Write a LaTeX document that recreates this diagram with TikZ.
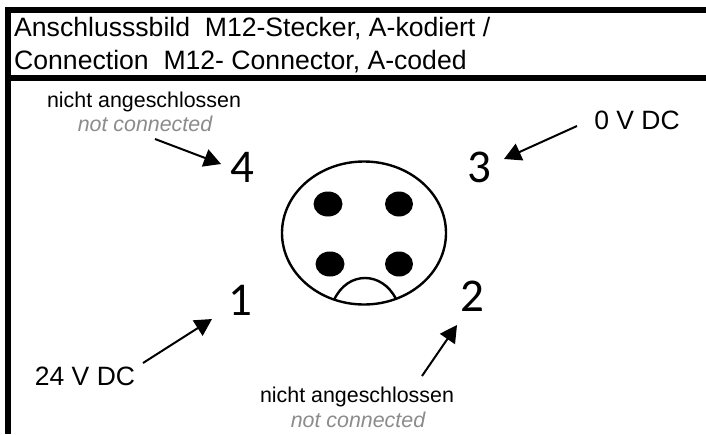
\documentclass[tikz,border=0pt]{standalone}
\usepackage{fontspec}
\setmainfont{Liberation Sans}
\newfontfamily\digitfont{Carlito}
\usetikzlibrary{arrows.meta}
\tikzset{
  rule/.style={line width=6pt,line cap=butt},
  titletext/.style={anchor=base west,inner sep=0pt,font=\fontsize{26.6}{26.6}\selectfont},
  pinlabel/.style={anchor=base,inner sep=0pt,font=\fontsize{21.4}{21.4}\selectfont},
  pinlabelen/.style={anchor=base,inner sep=0pt,text=black!45,font=\fontsize{21.4}{21.4}\selectfont\itshape},
  voltage/.style={anchor=base,inner sep=0pt,font=\fontsize{26.5}{26.5}\selectfont},
  pinnumber/.style={anchor=base,inner sep=0pt,font=\fontsize{47}{47}\digitfont},
  pointer/.style={line width=2pt,-{Triangle[length=17pt,width=18pt]},shorten >=0pt},
  contact/.style={fill=black,draw=none},
  outline/.style={draw=black,line width=2.4pt}
}
\begin{document}
\begin{tikzpicture}[x=1pt,y=-1pt]
\useasboundingbox (0,0) rectangle (706,434);
\fill[white] (0,0) rectangle (706,434);
% frame
\coordinate (tl) at (5,10);
\coordinate (tr) at (706,10);
\coordinate (ml) at (8,78);
\coordinate (mr) at (706,78);
\coordinate (bl) at (8,434);
\coordinate (tc) at (8,7);
\draw[rule] (tl) -- (tr);
\draw[rule] (ml) -- (mr);
\draw[rule] (tc) -- (bl);
% title
\node[titletext] (t1) at (14,36) {Anschlusssbild\ \ M12-Stecker, A-kodiert /};
\node[titletext] (t2) at (14,69) {Connection\ \ M12- Connector, A-coded};
% connector face
\draw[outline] (364,233) ellipse [x radius=82,y radius=71.5];
\draw[outline] (334,300) .. controls (341,285) and (353,278) .. (365,278) .. controls (377,278) and (389,285) .. (396,299);
\fill[contact] (328,204) ellipse [x radius=14.5,y radius=12.5];
\fill[contact] (399,204) ellipse [x radius=14,y radius=12.5];
\fill[contact] (330,264) ellipse [x radius=14.5,y radius=12.5];
\fill[contact] (399,264) ellipse [x radius=14,y radius=12.5];
% pin numbers
\node[pinnumber] (p4) at (242,182) {4};
\node[pinnumber] (p3) at (479,182) {3};
\node[pinnumber] (p1) at (240,315) {1};
\node[pinnumber] (p2) at (472,311) {2};
% labels
\node[pinlabel] (n4) at (144,107) {nicht angeschlossen};
\node[pinlabelen] (e4) at (145,131) {not connected};
\node[voltage] (v3) at (637,129) {0 V DC};
\node[voltage] (v1) at (85,385) {24 V DC};
\node[pinlabel] (n2) at (357,402) {nicht angeschlossen};
\node[pinlabelen] (e2) at (358,427) {not connected};
% arrow ends
\coordinate (a4s) at (155,139);
\coordinate (a4e) at (221,164);
\coordinate (a3s) at (577,126);
\coordinate (a3e) at (504,159);
\coordinate (a1s) at (143,363);
\coordinate (a1e) at (212,319);
\coordinate (a2s) at (422,376);
\coordinate (a2e) at (457,325);
\draw[pointer] (a4s) -- (a4e);
\draw[pointer] (a3s) -- (a3e);
\draw[pointer] (a1s) -- (a1e);
\draw[pointer] (a2s) -- (a2e);
\end{tikzpicture}
\end{document}
